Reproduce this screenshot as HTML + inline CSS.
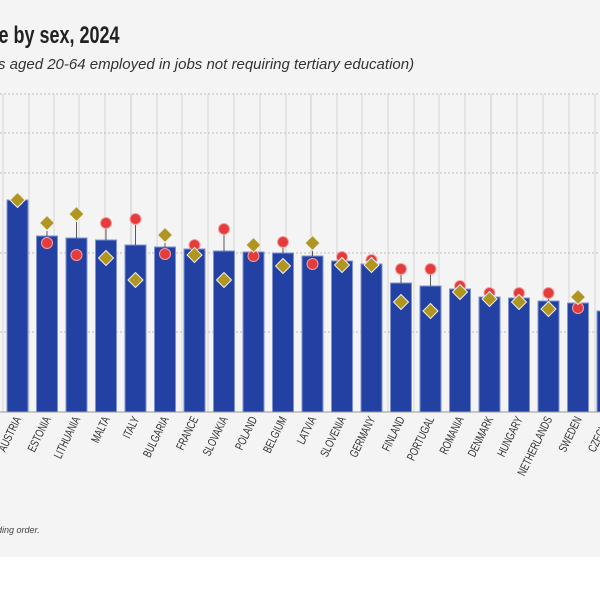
<!DOCTYPE html>
<html><head><meta charset="utf-8"><style>
body{margin:0;width:600px;height:600px;background:#fff;overflow:hidden}
</style></head><body>
<svg width="600" height="600" xmlns="http://www.w3.org/2000/svg" font-family="Liberation Sans, sans-serif">
<rect x="0" y="0" width="600" height="557" fill="#f4f4f4"/>
<text x="-2" y="43" font-size="24" font-weight="bold" fill="#222" transform="scale(0.75,1)">e by sex, 2024</text>
<text x="-2" y="69" font-size="15" font-style="italic" fill="#333">s aged 20-64 employed in jobs not requiring tertiary education)</text>
<g stroke="#d6d6d6" stroke-width="1">
<line x1="3" y1="94" x2="3" y2="412"/><line x1="29" y1="94" x2="29" y2="412"/><line x1="54" y1="94" x2="54" y2="412"/><line x1="79" y1="94" x2="79" y2="412"/><line x1="105" y1="94" x2="105" y2="412"/><line x1="131" y1="94" x2="131" y2="412" stroke="#c8c8c8"/><line x1="157" y1="94" x2="157" y2="412"/><line x1="182" y1="94" x2="182" y2="412"/><line x1="208" y1="94" x2="208" y2="412"/><line x1="234" y1="94" x2="234" y2="412"/><line x1="260" y1="94" x2="260" y2="412"/><line x1="286" y1="94" x2="286" y2="412"/><line x1="311" y1="94" x2="311" y2="412" stroke="#c8c8c8"/><line x1="337" y1="94" x2="337" y2="412"/><line x1="362" y1="94" x2="362" y2="412"/><line x1="388" y1="94" x2="388" y2="412"/><line x1="414" y1="94" x2="414" y2="412"/><line x1="439" y1="94" x2="439" y2="412"/><line x1="465" y1="94" x2="465" y2="412"/><line x1="491" y1="94" x2="491" y2="412" stroke="#c8c8c8"/><line x1="517" y1="94" x2="517" y2="412"/><line x1="543" y1="94" x2="543" y2="412"/><line x1="569" y1="94" x2="569" y2="412"/><line x1="595" y1="94" x2="595" y2="412"/>
</g>
<g stroke="#bbb" stroke-width="1" stroke-dasharray="2,2">
<line x1="0" y1="94" x2="600" y2="94"/><line x1="0" y1="133" x2="600" y2="133"/><line x1="0" y1="173" x2="600" y2="173"/><line x1="0" y1="253" x2="600" y2="253"/><line x1="0" y1="332" x2="600" y2="332"/>
</g>
<g fill="#2340a3" stroke="#7f93d0" stroke-width="1">
<rect x="7" y="200" width="21" height="212"/>
<rect x="36.5" y="236" width="21" height="176"/>
<rect x="66" y="238" width="21" height="174"/>
<rect x="95.5" y="240" width="21" height="172"/>
<rect x="125" y="245" width="21" height="167"/>
<rect x="154.5" y="247" width="21" height="165"/>
<rect x="184" y="249" width="21" height="163"/>
<rect x="213.5" y="251" width="21" height="161"/>
<rect x="243" y="252" width="21" height="160"/>
<rect x="272.5" y="253" width="21" height="159"/>
<rect x="302" y="256" width="21" height="156"/>
<rect x="331.5" y="261" width="21" height="151"/>
<rect x="361" y="264" width="21" height="148"/>
<rect x="390.5" y="283" width="21" height="129"/>
<rect x="420" y="286" width="21" height="126"/>
<rect x="449.5" y="289" width="21" height="123"/>
<rect x="479" y="297" width="21" height="115"/>
<rect x="508.5" y="298" width="21" height="114"/>
<rect x="538" y="301" width="21" height="111"/>
<rect x="567.5" y="303" width="21" height="109"/>
<rect x="597" y="311" width="21" height="101"/>
</g>
<line x1="0" y1="412" x2="600" y2="412" stroke="#999"/>
<g stroke="#333" stroke-width="0.8">
<line x1="47" y1="223" x2="47" y2="236"/>
<line x1="76.5" y1="214" x2="76.5" y2="238"/>
<line x1="106" y1="223" x2="106" y2="240"/>
<line x1="135.5" y1="219" x2="135.5" y2="245"/>
<line x1="165" y1="235" x2="165" y2="247"/>
<line x1="224" y1="229" x2="224" y2="251"/>
<line x1="283" y1="242" x2="283" y2="253"/>
<line x1="312.5" y1="243" x2="312.5" y2="256"/>
<line x1="401" y1="269" x2="401" y2="283"/>
<line x1="430.5" y1="269" x2="430.5" y2="286"/>
<line x1="519" y1="293" x2="519" y2="298"/>
<line x1="548.5" y1="293" x2="548.5" y2="301"/>
</g>
<g fill="#e43c3c" stroke="#f3a0a0" stroke-width="1">
<circle cx="17.5" cy="200" r="5.5"/><circle cx="47" cy="243" r="5.5"/><circle cx="76.5" cy="255" r="5.5"/><circle cx="106" cy="223" r="5.5"/><circle cx="135.5" cy="219" r="5.5"/><circle cx="165" cy="254" r="5.5"/><circle cx="194.5" cy="245" r="5.5"/><circle cx="224" cy="229" r="5.5"/><circle cx="253.5" cy="256" r="5.5"/><circle cx="283" cy="242" r="5.5"/><circle cx="312.5" cy="264" r="5.5"/><circle cx="342" cy="257" r="5.5"/><circle cx="371.5" cy="260" r="5.5"/><circle cx="401" cy="269" r="5.5"/><circle cx="430.5" cy="269" r="5.5"/><circle cx="460" cy="286" r="5.5"/><circle cx="489.5" cy="293" r="5.5"/><circle cx="519" cy="293" r="5.5"/><circle cx="548.5" cy="293" r="5.5"/><circle cx="578" cy="308" r="5.5"/>
</g>
<g fill="#b0961f" stroke="#eee" stroke-width="1">
<polygon points="17.5,192.5 25,200 17.5,207.5 10,200"/>
<polygon points="47,215.5 54.5,223 47,230.5 39.5,223"/>
<polygon points="76.5,206.5 84,214 76.5,221.5 69,214"/>
<polygon points="106,250.5 113.5,258 106,265.5 98.5,258"/>
<polygon points="135.5,272.5 143,280 135.5,287.5 128,280"/>
<polygon points="165,227.5 172.5,235 165,242.5 157.5,235"/>
<polygon points="194.5,247.5 202,255 194.5,262.5 187,255"/>
<polygon points="224,272.5 231.5,280 224,287.5 216.5,280"/>
<polygon points="253.5,237.5 261,245 253.5,252.5 246,245"/>
<polygon points="283,258.5 290.5,266 283,273.5 275.5,266"/>
<polygon points="312.5,235.5 320,243 312.5,250.5 305,243"/>
<polygon points="342,257.5 349.5,265 342,272.5 334.5,265"/>
<polygon points="371.5,257.5 379,265 371.5,272.5 364,265"/>
<polygon points="401,294.5 408.5,302 401,309.5 393.5,302"/>
<polygon points="430.5,303.5 438,311 430.5,318.5 423,311"/>
<polygon points="460,284.5 467.5,292 460,299.5 452.5,292"/>
<polygon points="489.5,291.5 497,299 489.5,306.5 482,299"/>
<polygon points="519,294.5 526.5,302 519,309.5 511.5,302"/>
<polygon points="548.5,301.5 556,309 548.5,316.5 541,309"/>
<polygon points="578,289.5 585.5,297 578,304.5 570.5,297"/>
</g>
<g font-size="12" fill="#333" text-anchor="end">
<text transform="translate(21.5,419) rotate(-64) scale(0.72,1)">AUSTRIA</text>
<text transform="translate(51,419) rotate(-64) scale(0.72,1)">ESTONIA</text>
<text transform="translate(80.5,419) rotate(-64) scale(0.72,1)">LITHUANIA</text>
<text transform="translate(110,419) rotate(-64) scale(0.72,1)">MALTA</text>
<text transform="translate(139.5,419) rotate(-64) scale(0.72,1)">ITALY</text>
<text transform="translate(169,419) rotate(-64) scale(0.72,1)">BULGARIA</text>
<text transform="translate(198.5,419) rotate(-64) scale(0.72,1)">FRANCE</text>
<text transform="translate(228,419) rotate(-64) scale(0.72,1)">SLOVAKIA</text>
<text transform="translate(257.5,419) rotate(-64) scale(0.72,1)">POLAND</text>
<text transform="translate(287,419) rotate(-64) scale(0.72,1)">BELGIUM</text>
<text transform="translate(316.5,419) rotate(-64) scale(0.72,1)">LATVIA</text>
<text transform="translate(346,419) rotate(-64) scale(0.72,1)">SLOVENIA</text>
<text transform="translate(375.5,419) rotate(-64) scale(0.72,1)">GERMANY</text>
<text transform="translate(405,419) rotate(-64) scale(0.72,1)">FINLAND</text>
<text transform="translate(434.5,419) rotate(-64) scale(0.72,1)">PORTUGAL</text>
<text transform="translate(464,419) rotate(-64) scale(0.72,1)">ROMANIA</text>
<text transform="translate(493.5,419) rotate(-64) scale(0.72,1)">DENMARK</text>
<text transform="translate(523,419) rotate(-64) scale(0.72,1)">HUNGARY</text>
<text transform="translate(552.5,419) rotate(-64) scale(0.72,1)">NETHERLANDS</text>
<text transform="translate(582,419) rotate(-64) scale(0.72,1)">SWEDEN</text>
<text transform="translate(611.5,419) rotate(-64) scale(0.72,1)">CZECHIA</text>
</g>
<text x="-3" y="533" font-size="9" font-style="italic" fill="#444">ding order.</text>
</svg>
</body></html>
